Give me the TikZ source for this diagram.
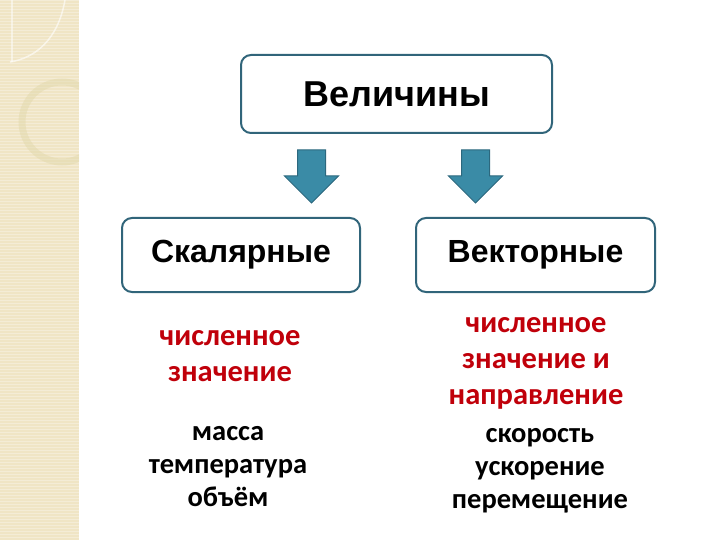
\documentclass[tikz,border=0pt]{standalone}
\usepackage{fontspec}
\setmainfont{Carlito}
\newfontfamily\headfont{Liberation Sans}
\usepackage{xcolor}
\usetikzlibrary{positioning,calc}
\definecolor{boxline}{RGB}{49,101,122}
\definecolor{arrfill}{RGB}{58,139,166}
\definecolor{arredge}{RGB}{44,104,126}
\definecolor{numred}{RGB}{192,0,10}
\definecolor{strip}{RGB}{240,229,197}
\newcommand{\bigdown}[2]{\filldraw[fill=arrfill, draw=arredge, line width=1pt] ($(#1)+(-14,0)$) -- ++(28,0) -- ++(0,26) -- ++(13,0) -- ($(#2)$) -- ($(#1)+(-27,26)$) -- ++(13,0) -- cycle;}

\begin{document}
\begin{tikzpicture}[x=1pt, y=-1pt, every node/.style={align=center, inner sep=0pt}, head/.style={draw=boxline, line width=2pt, rounded corners=10pt, fill=white, font=\headfont\bfseries\fontsize{32}{36}\selectfont}, red/.style={text=numred, font=\fontsize{30.5}{36}\selectfont\bfseries}, examples/.style={font=\fontsize{28.5}{33}\selectfont\bfseries}]
\useasboundingbox (0,0) rectangle (720,540);
% background strip
\fill[strip] (0,0) rectangle (79,540);
\begin{scope}
\clip (0,0) rectangle (79,540);
\foreach \y in {0,3,...,540} \draw[white, opacity=0.3, line width=0.6pt] (0,\y) -- (79,\y);
\draw[white, opacity=0.6, line width=1.5pt] (65,0) .. controls (58,40) and (35,58) .. (10,62);
\draw[white, opacity=0.5, line width=1.2pt] (12,0) -- (12,62);
\draw[strip!85!olive, opacity=0.45, line width=7pt] (62,122) circle (40);
\end{scope}
\node[head, minimum width=311pt, minimum height=78pt, font=\headfont\bfseries\fontsize{36}{40}\selectfont] (q) at (396.5,94) {Величины};
\node[head, minimum width=238pt, minimum height=74pt] (s) at (241,255) {Скалярные};
\node[head, minimum width=239pt, minimum height=74pt] (v) at (535.5,255) {Векторные};
\coordinate (sa) at (311.5,150); \coordinate (st) at (311.5,203);
\coordinate (va) at (475.5,150); \coordinate (vt) at (475.5,203);
\bigdown{sa}{st} \bigdown{va}{vt}
\node[red] (snum) at (230,356) {численное\\значение};
\node[examples] (sex) at (228,467) {масса\\температура\\объём};
\node[red] (vnum) at (536,363) {численное\\значение и\\направление};
\node[examples] (vex) at (540,471) {скорость\\ускорение\\перемещение};
\end{tikzpicture}
\end{document}
